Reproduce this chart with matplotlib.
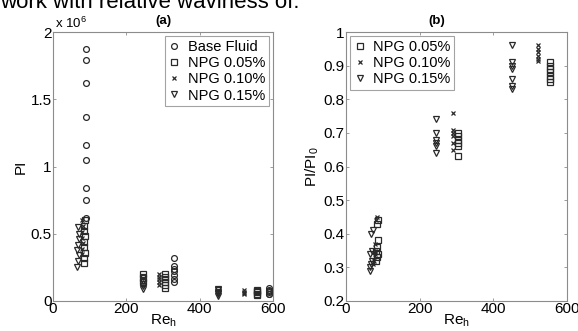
import matplotlib
matplotlib.use("Agg")
import matplotlib.pyplot as plt
from matplotlib.ticker import FuncFormatter

plt.rcParams['font.family'] = ['Liberation Sans', 'DejaVu Sans']

# ---- (a) PI vs Re_h ----
re_bf = [90] * 9 + [330] * 7 + [590] * 6
pi_bf = [1.87e6, 1.79e6, 1.62e6, 1.37e6, 1.16e6, 1.05e6, 0.84e6, 0.75e6, 0.62e6,
         0.32e6, 0.26e6, 0.24e6, 0.22e6, 0.19e6, 0.16e6, 0.14e6,
         0.095e6, 0.085e6, 0.075e6, 0.065e6, 0.055e6, 0.05e6]

re_05 = [84, 85, 86, 84, 85, 86, 84, 85, 86, 245, 245, 245, 305, 305, 305, 305, 305, 305,
         555, 555, 555, 555, 555]
pi_05 = [0.28e6, 0.32e6, 0.36e6, 0.40e6, 0.44e6, 0.48e6, 0.52e6, 0.56e6, 0.60e6,
         0.20e6, 0.17e6, 0.14e6,
         0.10e6, 0.12e6, 0.14e6, 0.16e6, 0.18e6, 0.20e6,
         0.045e6, 0.055e6, 0.065e6, 0.075e6, 0.085e6]

re_10 = [78, 80, 82, 78, 80, 82, 80, 290, 290, 290, 290, 290, 520, 520, 520, 520]
pi_10 = [0.35e6, 0.39e6, 0.43e6, 0.47e6, 0.51e6, 0.56e6, 0.60e6,
         0.12e6, 0.14e6, 0.16e6, 0.18e6, 0.20e6,
         0.05e6, 0.06e6, 0.07e6, 0.08e6]

re_15 = [65, 68, 70, 65, 68, 70, 72, 68, 245, 245, 245, 245, 245,
         450, 450, 450, 450, 450, 450]
pi_15 = [0.25e6, 0.30e6, 0.34e6, 0.38e6, 0.42e6, 0.46e6, 0.50e6, 0.55e6,
         0.09e6, 0.11e6, 0.13e6, 0.15e6, 0.18e6,
         0.04e6, 0.05e6, 0.06e6, 0.07e6, 0.08e6, 0.09e6]

# ---- (b) PI/PI0 vs Re_h ----
reb_05 = [82, 84, 86, 82, 84, 86, 84, 86, 305, 305, 305, 305, 305, 305,
          555, 555, 555, 555, 555, 555, 555]
rb_05 = [0.32, 0.33, 0.34, 0.35, 0.36, 0.38, 0.43, 0.44,
         0.63, 0.66, 0.67, 0.68, 0.69, 0.70,
         0.85, 0.86, 0.87, 0.88, 0.89, 0.90, 0.91]

reb_10 = [74, 76, 78, 80, 78, 82, 84, 290, 290, 290, 290, 290, 290,
          520, 520, 520, 520, 520, 520]
rb_10 = [0.31, 0.32, 0.34, 0.35, 0.37, 0.44, 0.45,
         0.65, 0.67, 0.69, 0.70, 0.71, 0.76,
         0.915, 0.92, 0.93, 0.94, 0.95, 0.96]

reb_15 = [64, 66, 68, 70, 66, 70, 68, 72, 245, 245, 245, 245, 245, 245,
          450, 450, 450, 450, 450, 450, 450]
rb_15 = [0.29, 0.30, 0.31, 0.32, 0.34, 0.35, 0.40, 0.41,
         0.64, 0.66, 0.67, 0.68, 0.70, 0.74,
         0.83, 0.84, 0.86, 0.89, 0.90, 0.91, 0.96]

W, H = 578, 331
fig = plt.figure(figsize=(W / 100, H / 100), dpi=100)
axa = fig.add_axes([53 / W, 1 - 301 / H, 220 / W, 269 / H])
axb = fig.add_axes([346 / W, 1 - 301 / H, 221 / W, 269 / H])

edge = '#2a2a2a'
ms = 4.2

def style(ax):
    for s in ax.spines.values():
        s.set_color('#8c8c8c')
        s.set_linewidth(0.8)
    ax.tick_params(direction='in', length=2.5, width=0.6, color='#8c8c8c',
                   labelsize=11, top=True, right=True, pad=1)

axa.plot(re_bf, pi_bf, 'o', ms=ms, mfc='none', mec=edge, mew=0.9, label='Base Fluid')
axa.plot(re_05, pi_05, 's', ms=ms, mfc='none', mec=edge, mew=0.9, label='NPG 0.05%')
axa.plot(re_10, pi_10, 'x', ms=3, mec=edge, mew=0.9, label='NPG 0.10%')
axa.plot(re_15, pi_15, 'v', ms=ms, mfc='none', mec=edge, mew=0.9, label='NPG 0.15%')
axa.set_xlim(0, 600)
axa.set_ylim(0, 2e6)
axa.set_xticks([0, 200, 400, 600])
axa.set_yticks([0, 0.5e6, 1e6, 1.5e6, 2e6])
axa.yaxis.set_major_formatter(FuncFormatter(lambda v, p: f'{v / 1e6:g}'))
style(axa)
axa.set_xlabel('Re$_\\mathregular{h}$', fontsize=11, labelpad=-3)
axa.set_ylabel('PI', fontsize=11, labelpad=2)
axa.set_title('(a)', fontsize=9.5, fontweight='bold', pad=6)
axa.text(0.01, 1.005, 'x 10$^\\mathregular{6}$', transform=axa.transAxes,
         fontsize=9.5, va='bottom', ha='left')
la = axa.legend(loc='upper right', fontsize=10.5, frameon=True, fancybox=False,
                handlelength=0.8, handletextpad=0.5, borderpad=0.25,
                labelspacing=0.15, borderaxespad=0.3)
la.get_frame().set_edgecolor('#8c8c8c')
la.get_frame().set_linewidth(0.8)

axb.plot(reb_05, rb_05, 's', ms=ms, mfc='none', mec=edge, mew=0.9, label='NPG 0.05%')
axb.plot(reb_10, rb_10, 'x', ms=3, mec=edge, mew=0.9, label='NPG 0.10%')
axb.plot(reb_15, rb_15, 'v', ms=ms, mfc='none', mec=edge, mew=0.9, label='NPG 0.15%')
axb.set_xlim(0, 600)
axb.set_ylim(0.2, 1.0)
axb.set_xticks([0, 200, 400, 600])
axb.set_yticks([0.2, 0.3, 0.4, 0.5, 0.6, 0.7, 0.8, 0.9, 1.0])
axb.yaxis.set_major_formatter(FuncFormatter(lambda v, p: f'{v:g}'))
style(axb)
axb.set_xlabel('Re$_\\mathregular{h}$', fontsize=11, labelpad=-3)
axb.set_ylabel('PI/PI$_\\mathregular{0}$', fontsize=11, labelpad=2)
axb.set_title('(b)', fontsize=9.5, fontweight='bold', pad=6, x=0.41)
lb = axb.legend(loc='upper left', fontsize=10.5, frameon=True, fancybox=False,
                handlelength=0.8, handletextpad=0.5, borderpad=0.25,
                labelspacing=0.15, borderaxespad=0.3)
lb.get_frame().set_edgecolor('#8c8c8c')
lb.get_frame().set_linewidth(0.8)

# caption text cut off at the top of the image
fig.text(0.0, 1 - 8 / H, 'work with relative waviness of.', fontsize=16,
         va='baseline', ha='left')

fig.savefig('out.png', dpi=100)
